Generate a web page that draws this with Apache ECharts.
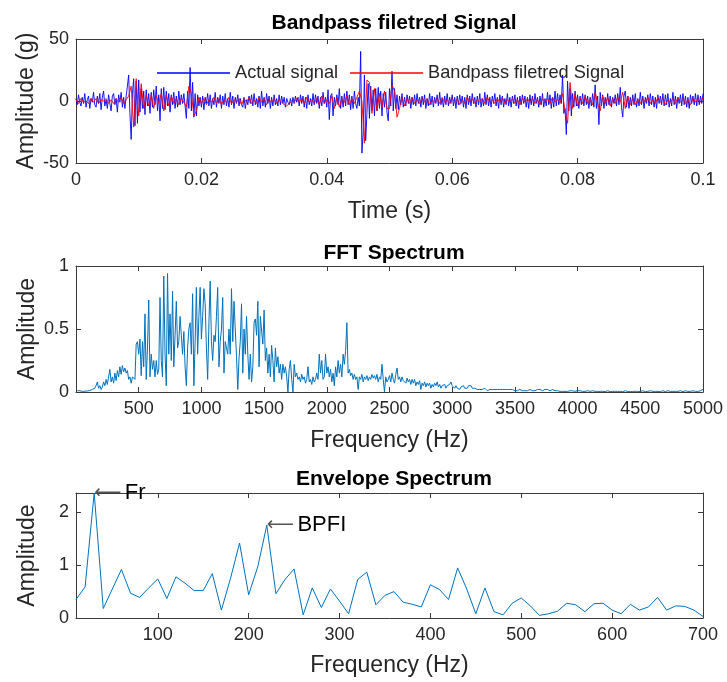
<!DOCTYPE html>
<html>
<head>
<meta charset="utf-8">
<script src="https://cdn.jsdelivr.net/npm/echarts@6/dist/echarts.min.js"></script>
<style>html,body{margin:0;padding:0;background:#fff}#chart{width:727px;height:682px}</style>
</head>
<body>
<div id="chart"></div>
<script>
// ---------- DATA ----------
const titles = ['Bandpass filetred Signal', 'FFT Spectrum', 'Envelope Spectrum'];
const legendNames = ['Actual signal', 'Bandpass filetred Signal'];
const actualStep = 0.0002;   // s between samples of the raw signal
const filteredStep = 0.0004; // s between samples of the filtered signal
const actualSignal = [
 2,-3,5,-1,-4,3,-2,6,-5,1,
 4,-6,2,-1,7,-3,-5,4,-2,6,
 -7,3,8,-4,1,-6,5,-2,-8,4,
 6,-3,2,-9,5,-1,7,-5,3,-6,
 4,12,21,-10,-31,6,18,-20,16,-18,
 17,-9,10,-6,8,-11,9,-4,6,-10,
 7,-5,9,-3,12,-8,5,-16,10,-6,
 11,-7,8,-4,6,-9,5,-3,7,-6,
 4,-5,8,-3,5,-2,6,-4,-14,8,
 -6,27,-8,15,-13,6,-12,5,-4,3,
 -5,4,-7,3,-2,6,-4,5,-6,2,
 -3,7,-5,3,-2,5,-6,4,-3,6,
 -4,2,-5,7,-3,4,-6,3,-2,5,
 -4,2,-3,-5,3,-6,1,-3,4,-2,
 5,-4,6,-3,2,-5,4,-6,8,-4,
 3,-5,6,-2,4,-6,3,-4,5,-3,
 2,-4,5,-3,4,-2,3,-5,2,-1,
 -3,2,-4,3,-2,4,-1,3,-4,5,
 -2,4,-5,3,-6,5,-3,2,-4,6,
 -3,5,-2,4,-6,3,-4,7,-2,3,
 -5,9,-15,4,6,-12,3,-4,5,-3,
 10,-6,4,-5,6,-4,8,-3,5,-7,
 4,-6,8,-2,-6,3,-4,40,-42,-25,
 21,-32,-10,14,-14,12,-8,9,-12,10,
 -8,11,-6,8,-12,6,-5,7,-9,-16,
 10,-4,24,-8,10,-6,5,-7,4,-3,
 6,-5,3,-4,5,-2,4,-6,3,-3,
 5,-4,6,-2,3,-5,4,-3,5,-6,
 2,-4,6,-3,4,-5,3,-2,5,-4,
 7,-3,2,-5,4,-3,6,-4,3,-2,
 5,-4,3,-6,4,-3,5,-2,4,-5,
 3,-6,5,-3,4,-4,6,-2,3,-5,
 4,-3,6,-5,2,-4,7,-3,5,-4,
 3,-5,4,-2,6,-4,3,-6,5,-3,
 4,-5,2,-3,6,-4,3,-5,4,-2,
 5,-4,3,-6,4,-3,5,-2,4,-5,
 3,-6,5,-3,4,-4,6,-2,3,-5,
 4,-3,6,-5,2,-4,7,-3,5,-6,
 3,-5,8,-4,6,-3,5,-2,21,-10,
 -6,-27,16,-8,10,-12,6,-5,8,-4,
 5,-6,4,-3,6,-4,5,-3,4,-6,
 3,-4,6,-5,13,-6,4,-19,7,-4,
 5,-6,3,-4,6,-3,4,-5,3,-2,
 5,-4,6,-3,11,-5,-13,4,8,-5,
 4,-6,3,-4,5,-3,6,-5,2,-4,
 7,-3,4,-6,3,-2,5,-4,6,-3,
 4,-5,3,-6,5,-2,4,-3,6,-4,
 5,-3,6,-5,2,-4,7,-3,4,-6,
 3,-2,5,-4,6,-3,4,-5,3,-6,
 5,-2,4,-3,6,-4,5,-3,4,-2,
 6
];
const filteredSignal = [
 1,-2,2,-1,0,-2,2,-1,2,-2,1,0,2,-2,1,-2,2,-1,3,-2,1,4,12,-21,18,
 -12,14,-6,5,-4,5,-6,4,-2,6,-8,5,-4,4,-2,2,-3,2,-1,-5,12,6,-12,-8,3,
 -2,2,-3,1,-1,3,-2,2,-3,1,-1,3,-2,1,-1,2,-3,2,-1,3,-2,1,-2,3,-1,
 2,-3,1,-1,2,-2,1,-1,-3,-4,-2,0,-1,2,-1,2,-2,3,-1,1,-2,2,-3,4,-2,
 1,-2,4,-6,3,-5,2,-1,4,-3,2,-2,3,8,0,-34,17,15,-10,10,-8,6,-5,8,-6,
 -6,13,8,-13,-6,3,-4,2,-2,3,-2,1,-2,3,-1,2,-3,1,-1,2,-2,3,-1,1,-2,
 2,-1,2,-3,1,-2,3,-1,2,-2,1,-1,2,-2,3,-1,1,-2,2,-1,3,-2,1,-1,2,
 -2,1,-3,2,-1,2,-1,2,-2,1,-3,2,-1,2,-2,3,-1,1,-2,6,-8,-18,15,-6,6,
 -4,3,-2,4,-2,2,-3,7,-2,-8,4,-2,3,-4,2,-2,3,-1,7,-6,4,-3,2,-3,1,
 -2,2,-1,3,-2,1,-2,3,-1,2,-3,1,-1,2,-2,3,-1,2,-2,1,-3,2,-1,2,-1,3
];
const fftStep = 10; // Hz between bins, first bin at 10 Hz
const fftAmplitude = [
 0.01,0.005,0.01,0.008,0.005,0.01,0.006,0.012,0.008,0.01,
 0.012,0.008,0.02,0.01,0.03,0.05,0.08,0.03,0.05,0.02,
 0.04,0.08,0.05,0.1,0.06,0.12,0.18,0.08,0.12,0.07,
 0.15,0.09,0.17,0.12,0.2,0.14,0.21,0.16,0.19,0.15,
 0.17,0.1,0.12,0.07,0.12,0.13,0.1,0.38,0.4,0.3,
 0.42,0.13,0.4,0.2,0.62,0.1,0.35,0.73,0.12,0.3,
 0.18,0.25,0.12,0.25,0.14,0.18,0.75,0.25,0.12,0.92,
 0.3,0.05,0.94,0.3,0.62,0.25,0.8,0.2,0.45,0.72,
 0.35,0.4,0.6,0.45,0.3,0.48,0.2,0.05,0.35,0.5,
 0.55,0.3,0.78,0.05,0.4,0.83,0.3,0.6,0.83,0.42,
 0.6,0.82,0.7,0.35,0.1,0.55,0.88,0.4,0.25,0.45,
 0.4,0.6,0.83,0.2,0.4,0.5,0.75,0.15,0.4,0.35,
 0.3,0.5,0.3,0.82,0.4,0.72,0.5,0.28,0.02,0.27,
 0.4,0.7,0.15,0.5,0.3,0.6,0.3,0.1,0.3,0.08,
 0.2,0.55,0.58,0.45,0.72,0.2,0.6,0.6,0.38,0.65,
 0.25,0.35,0.15,0.3,0.12,0.37,0.25,0.08,0.35,0.2,
 0.28,0.15,0.22,0.1,0.22,0.15,0.2,0.12,0.0,0.18,
 0.25,0.1,0.0,0.22,0.12,0.15,0.1,0.12,0.08,0.14,
 0.1,0.12,0.07,0.1,0.2,0.08,0.1,0.06,0.12,0.08,
 0.1,0.15,0.1,0.3,0.15,0.25,0.1,0.12,0.3,0.15,
 0.2,0.12,0.18,0.08,0.15,0.05,0.2,0.12,0.25,0.15,
 0.22,0.12,0.3,0.22,0.33,0.55,0.15,0.18,0.13,0.15,
 0.1,0.14,0.1,0.12,0.02,0.12,0.1,0.14,0.08,0.12,
 0.1,0.13,0.09,0.12,0.1,0.14,0.11,0.13,0.1,0.14,
 0.08,0.12,0.1,0.22,0.1,0.0,0.12,0.08,0.1,0.13,
 0.08,0.15,0.1,0.07,0.14,0.19,0.1,0.12,0.08,0.12,
 0.09,0.1,0.07,0.11,0.08,0.1,0.06,0.1,0.07,0.1,
 0.05,0.08,0.06,0.09,0.02,0.07,0.05,0.08,0.04,0.07,
 0.05,0.07,0.03,0.06,0.04,0.07,0.05,0.08,0.04,0.06,
 0.03,0.05,0.04,0.06,0.03,0.05,0.04,0.06,0.08,0.05,
 0.04,0.03,0.05,0.03,0.04,0.02,0.04,0.03,0.05,0.03,
 0.04,0.03,0.05,0.04,0.05,0.03,0.04,0.03,0.04,0.02,
 0.03,0.02,0.03,0.02,0.02,0.03,0.02,0.01,0.02,0.02,
 0.03,0.02,0.01,0.02,0.03,0.02,0.01,0.02,0.01,0.02,
 0.03,0.02,0.01,0.02,0.01,0.02,0.03,0.02,0.01,0.01,
 0.02,0.01,0.01,0.02,0.01,0.01,0.02,0.01,0.01,0.01,
 0.01,0.02,0.01,0.01,0.02,0.01,0.02,0.02,0.01,0.02,
 0.02,0.01,0.02,0.02,0.01,0.02,0.02,0.01,0.01,0.02,
 0.01,0.01,0.005,0.01,0.01,0.005,0.01,0.005,0.01,0.005,
 0.01,0.005,0.01,0.01,0.005,0.01,0.005,0.005,0.01,0.01,
 0.005,0.01,0.005,0.005,0.01,0.005,0.005,0.01,0.005,0.005,
 0.005,0.01,0.005,0.005,0.003,0.005,0.01,0.005,0.003,0.005,
 0.005,0.003,0.005,0.01,0.005,0.003,0.005,0.005,0.003,0.005,
 0.01,0.005,0.003,0.005,0.005,0.003,0.005,0.01,0.005,0.003,
 0.005,0.003,0.005,0.005,0.01,0.005,0.003,0.005,0.005,0.003,
 0.005,0.01,0.005,0.003,0.005,0.005,0.003,0.01,0.005,0.005,
 0.003,0.005,0.01,0.005,0.005,0.003,0.005,0.01,0.005,0.003,
 0.005,0.01,0.005,0.005,0.01,0.005,0.003,0.005,0.01,0.005,
 0.005,0.01,0.005,0.003,0.005,0.01,0.005,0.005,0.01,0.005,
 0.005,0.01,0.015,0.005,0.01,0.005,0.015,0.01,0.005,0.02
];
const envFreq = [10,20,30,40,50,60,70,80,90,100,110,120,130,140,150,160,170,180,190,200,
 210,220,230,240,250,260,270,280,290,300,310,320,330,340,350,360,370,380,390,400,
 410,420,430,440,450,460,470,480,490,500,510,520,530,540,550,560,570,580,590,600,
 610,620,630,640,650,660,670,680,690,700];
const envAmplitude = [0.35,0.59,2.37,0.18,0.55,0.92,0.47,0.39,0.57,0.74,
 0.37,0.78,0.66,0.52,0.52,0.84,0.15,0.75,1.42,0.44,
 0.97,1.76,0.46,0.73,0.93,0.06,0.57,0.2,0.55,0.32,
 0.08,0.73,0.87,0.25,0.43,0.5,0.3,0.26,0.21,0.63,
 0.54,0.35,0.95,0.55,0.08,0.57,0.12,0.06,0.28,0.38,
 0.23,0.05,0.08,0.13,0.28,0.25,0.12,0.27,0.28,0.15,
 0.08,0.26,0.15,0.21,0.39,0.15,0.23,0.22,0.15,0.03];
const annotations = [{freq: 30, amp: 2.37, text: 'Fr'}, {freq: 220, amp: 1.76, text: 'BPFI'}];
const timeTicks = [0, 0.02, 0.04, 0.06, 0.08, 0.1];
const fftTicks = [500,1000,1500,2000,2500,3000,3500,4000,4500,5000];
const envTicks = [100,200,300,400,500,600,700];

// ---------- BUILD ----------
const FONT = 'Liberation Sans';
const TXT = '#262626';
const AX = '#3a3a3a';
const actualData = actualSignal.map((v, i) => [+(i * actualStep).toFixed(5), v]);
const filteredData = filteredSignal.map((v, i) => [+(i * filteredStep).toFixed(5), v]);
const fftData = fftAmplitude.map((v, i) => [(i + 1) * fftStep, v]);
const envData = envFreq.map((f, i) => [f, envAmplitude[i]]);

const grids = [
  {left: 76, right: 24, top: 39, height: 124},
  {left: 76, right: 24, top: 266, height: 126},
  {left: 76, right: 24, top: 493, height: 125}
];
const plain = v => String(v);

function xAx(gi, min, max, ticks, name, gap, main) {
  return {
    type: 'value', gridIndex: gi, min: min, max: max, position: main ? 'bottom' : 'top',
    name: main ? name : '', nameLocation: 'middle', nameGap: gap,
    nameTextStyle: {fontFamily: FONT, fontSize: 23, color: TXT},
    axisLine: {show: true, onZero: false, lineStyle: {color: AX, width: 1}},
    axisTick: {show: true, inside: true, length: 5, customValues: ticks, lineStyle: {color: AX}},
    axisLabel: {show: main, customValues: ticks, formatter: plain, fontFamily: FONT, fontSize: 18, color: TXT, margin: 8},
    splitLine: {show: false}
  };
}
function yAx(gi, min, max, ticks, name, gap, main) {
  return {
    type: 'value', gridIndex: gi, min: min, max: max, position: main ? 'left' : 'right',
    name: main ? name : '', nameLocation: 'middle', nameGap: gap, nameMoveOverlap: false,
    nameTextStyle: {fontFamily: FONT, fontSize: 23, color: TXT},
    axisLine: {show: true, onZero: false, lineStyle: {color: AX, width: 1}},
    axisTick: {show: true, inside: true, length: 5, customValues: ticks, lineStyle: {color: AX}},
    axisLabel: {show: main, customValues: ticks, formatter: plain, fontFamily: FONT, fontSize: 18, color: TXT, margin: 7},
    splitLine: {show: false}
  };
}
const titleStyle = {fontFamily: FONT, fontWeight: 'bold', fontSize: 21, color: '#000'};

const option = {
  animation: false,
  backgroundColor: '#fff',
  title: [
    {text: titles[0], left: 389, top: 8, textAlign: 'center', textStyle: titleStyle},
    {text: titles[1], left: 389, top: 238, textAlign: 'center', textStyle: titleStyle},
    {text: titles[2], left: 389, top: 464, textAlign: 'center', textStyle: titleStyle}
  ],
  legend: {
    data: legendNames, left: 152, top: 59, icon: 'rect', itemWidth: 73, itemHeight: 1.5, itemGap: 12,
    textStyle: {fontFamily: FONT, fontSize: 18.2, color: TXT}
  },
  grid: grids,
  xAxis: [
    xAx(0, 0, 0.1, timeTicks, 'Time (s)', 37, true), xAx(0, 0, 0.1, timeTicks, '', 0, false),
    xAx(1, 0, 5000, fftTicks, 'Frequency (Hz)', 37, true), xAx(1, 0, 5000, fftTicks, '', 0, false),
    xAx(2, 10, 700, envTicks, 'Frequency (Hz)', 36, true), xAx(2, 10, 700, envTicks, '', 0, false)
  ],
  yAxis: [
    yAx(0, -50, 50, [-50, 0, 50], 'Amplitude (g)', 38, true), yAx(0, -50, 50, [-50, 0, 50], '', 0, false),
    yAx(1, 0, 1, [0, 0.5, 1], 'Amplitude', 37, true), yAx(1, 0, 1, [0, 0.5, 1], '', 0, false),
    yAx(2, 0, 2.37, [0, 1, 2], 'Amplitude', 37, true), yAx(2, 0, 2.37, [0, 1, 2], '', 0, false)
  ],
  series: [
    {name: legendNames[0], type: 'line', xAxisIndex: 0, yAxisIndex: 0, data: actualData, symbol: 'none',
     lineStyle: {color: '#0000ff', width: 0.9}, itemStyle: {color: '#0000ff'}},
    {name: legendNames[1], type: 'line', xAxisIndex: 0, yAxisIndex: 0, data: filteredData, symbol: 'none',
     lineStyle: {color: '#ff0000', width: 0.9}, itemStyle: {color: '#ff0000'}},
    {type: 'line', xAxisIndex: 2, yAxisIndex: 2, data: fftData, symbol: 'none',
     lineStyle: {color: '#0072bd', width: 1}},
    {type: 'line', xAxisIndex: 4, yAxisIndex: 4, data: envData, symbol: 'none',
     lineStyle: {color: '#0072bd', width: 1},
     markPoint: {
       symbol: 'circle', symbolSize: 0, silent: true,
       label: {show: true, position: 'right', distance: 0,
         rich: {a: {fontFamily: 'DejaVu Sans', fontSize: 19, color: '#555'}, b: {fontFamily: FONT, fontSize: 22, color: '#000'}}},
       data: annotations.map(a => ({coord: [a.freq, a.amp], value: a.text, label: {formatter: '{a|\u27f5} {b|' + a.text + '}'}}))
     }}
  ]
};
const chart = echarts.init(document.getElementById('chart'));
chart.setOption(option);
</script>
</body>
</html>
